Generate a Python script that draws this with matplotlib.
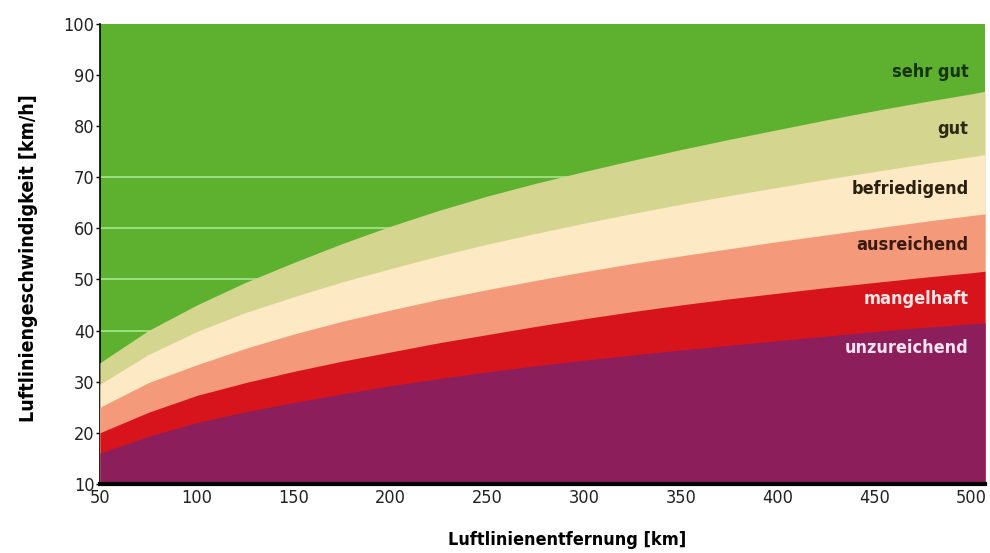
import matplotlib
matplotlib.use("Agg")
import matplotlib.pyplot as plt
import numpy as np

# Luftlinienentfernung [km]
dist = [50, 75, 100, 125, 150, 175, 200, 225, 250, 275, 300,
        325, 350, 375, 400, 425, 450, 475, 500, 507]

# upper limits of each grade band [km/h]
gut_top = [33.7, 40.0, 45.0, 49.4, 53.3, 57.0, 60.4, 63.5, 66.3, 68.8, 71.1,
           73.3, 75.4, 77.4, 79.3, 81.2, 83.0, 84.7, 86.3, 86.8]
befr_top = [29.5, 35.3, 39.8, 43.5, 46.6, 49.5, 52.1, 54.6, 56.9, 59.0, 61.0,
            62.9, 64.7, 66.4, 68.0, 69.6, 71.1, 72.6, 74.0, 74.4]
ausr_top = [25.0, 29.8, 33.3, 36.5, 39.3, 41.8, 44.0, 46.1, 48.0, 49.8, 51.5,
            53.1, 54.6, 56.0, 57.4, 58.7, 60.0, 61.3, 62.5, 62.8]
mang_top = [20.0, 24.0, 27.3, 29.8, 32.0, 34.0, 35.8, 37.6, 39.2, 40.8, 42.3,
            43.7, 45.0, 46.2, 47.3, 48.4, 49.4, 50.4, 51.3, 51.6]
unzu_top = [16.0, 19.3, 22.0, 24.1, 25.9, 27.6, 29.2, 30.6, 31.9, 33.1, 34.2,
            35.2, 36.2, 37.1, 38.0, 38.9, 39.8, 40.6, 41.3, 41.5]

grades = ['sehr gut', 'gut', 'befriedigend', 'ausreichend', 'mangelhaft', 'unzureichend']
label_y = [90.6, 79.5, 67.7, 56.8, 46.2, 36.6]
band_colors = ['#5db12f', '#d4d58f', '#fde9c4', '#f49a7b', '#d7141c', '#8c1e5c']
text_colors = ['#17330c', '#2b2a12', '#2a2010', '#3a1a0c', '#fbe4e4', '#f3e2f0']

narrow = ['DejaVu Sans']

fig = plt.figure(figsize=(9.9, 5.53), dpi=100)
ax = fig.add_axes([0.101, 0.125, 0.894, 0.832])

x = np.array(dist)
ax.fill_between(x, 10, 100, color=band_colors[0], lw=0, zorder=1)
for yv in [40, 50, 60, 70]:
    ax.axhline(yv, color='#a6e690', lw=1.2, zorder=2)
tops = [gut_top, befr_top, ausr_top, mang_top, unzu_top]
for i, top in enumerate(tops):
    ax.fill_between(x, 10, top, color=band_colors[i + 1], lw=0, zorder=3 + i)

for name, yv, tc in zip(grades, label_y, text_colors):
    ax.text(498.5, yv, name, ha='right', va='center', color=tc, fontsize=13,
            fontweight='bold', family=narrow, fontstretch='condensed', zorder=10)

ax.set_xlim(50, 507)
ax.set_ylim(10, 100)
ax.set_xticks(range(50, 501, 50))
ax.set_yticks(range(10, 101, 10))
ax.tick_params(axis='y', length=3, width=1, pad=1, labelsize=13, labelcolor='#222222')
ax.tick_params(axis='x', length=0, pad=4, labelsize=13, labelcolor='#222222')
for lab in ax.get_xticklabels() + ax.get_yticklabels():
    lab.set_family(narrow)
    lab.set_fontstretch('condensed')

for s in ['top', 'right']:
    ax.spines[s].set_visible(False)
ax.spines['left'].set_linewidth(1.2)
ax.spines['bottom'].set_linewidth(3)
ax.spines['bottom'].set_zorder(20)

ax.set_xlabel('Luftlinienentfernung [km]', fontsize=13, fontweight='bold',
              family=narrow, fontstretch='condensed')
ax.xaxis.set_label_coords(0.528, -0.102)
ax.set_ylabel('Luftliniengeschwindigkeit [km/h]', fontsize=14, fontweight='bold',
              family=narrow, fontstretch='condensed')
ax.yaxis.set_label_coords(-0.070, 0.49)

fig.savefig('out.png', dpi=100)
